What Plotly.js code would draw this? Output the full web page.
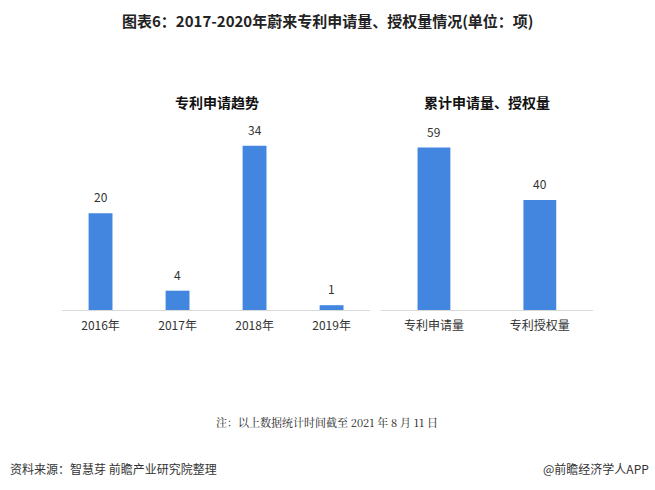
<!DOCTYPE html>
<html>
<head>
<meta charset="utf-8">
<script src="https://cdn.plot.ly/plotly-3.0.1.min.js"></script>
<style>
html,body{margin:0;padding:0;background:#fff;}
#chart{width:655px;height:490px;}
</style>
</head>
<body>
<div id="chart"></div>
<script>
// left panel: yearly applications
var year_labels = ['2016年', '2017年', '2018年', '2019年'];
var year_values = [20, 4, 34, 1];
// right panel: cumulative totals
var total_labels = ['专利申请量', '专利授权量'];
var total_values = [59, 40];

var bar_color = '#4286E0';
var cjk = '"Noto Sans CJK SC", "Noto Sans", sans-serif';

var trace_years = {
    x: year_labels,
    y: year_values,
    type: 'bar',
    marker: {color: bar_color},
    xaxis: 'x',
    yaxis: 'y',
    hoverinfo: 'none'
};
var trace_totals = {
    x: total_labels,
    y: total_values,
    type: 'bar',
    marker: {color: bar_color},
    xaxis: 'x2',
    yaxis: 'y2',
    hoverinfo: 'none'
};

// value labels above bars, a bit more room than plotly's outside text
function value_labels(cats, vals, xr, yr){
    var out = [];
    for (var i = 0; i < cats.length; i++){
        out.push({text: String(vals[i]), x: cats[i], y: vals[i], xref: xr, yref: yr,
            xanchor: 'center', yanchor: 'bottom', yshift: 6, showarrow: false,
            font: {family: cjk, size: 12, color: '#333'}});
    }
    return out;
}

var axis_x = {
    showline: true, linecolor: '#d9d9d9', linewidth: 1,
    ticks: '', showgrid: false, ticklabelstandoff: 5,
    tickfont: {family: cjk, size: 12, color: '#333'},
    fixedrange: true
};

var layout = {
    width: 655,
    height: 490,
    margin: {l: 0, r: 0, t: 0, b: 0},
    paper_bgcolor: '#fff',
    plot_bgcolor: 'rgba(0,0,0,0)',
    showlegend: false,
    bargap: 0.69,
    font: {family: cjk, color: '#333'},
    xaxis: Object.assign({domain: [0.0947, 0.565], anchor: 'y'}, axis_x),
    yaxis: {
        domain: [0.3673, 0.755],
        anchor: 'x',
        range: [0, 39.3],
        visible: false,
        fixedrange: true
    },
    xaxis2: Object.assign({domain: [0.5817, 0.905], anchor: 'y2'}, axis_x),
    yaxis2: {
        domain: [0.3673, 0.755],
        anchor: 'x2',
        range: [0, 69],
        visible: false,
        fixedrange: true
    },
    annotations: [
        {text: '<b>图表6：2017-2020年蔚来专利申请量、授权量情况(单位：项)</b>',
         xref: 'paper', yref: 'paper', x: 0.5, y: 1 - 20/490,
         xanchor: 'center', yanchor: 'middle', showarrow: false,
         font: {family: cjk, size: 15, color: '#222'}},
        {text: '<b>专利申请趋势</b>',
         xref: 'paper', yref: 'paper', x: 217/655, y: 1 - 102/490,
         xanchor: 'center', yanchor: 'middle', showarrow: false,
         font: {family: cjk, size: 14, color: '#111'}},
        {text: '<b>累计申请量、授权量</b>',
         xref: 'paper', yref: 'paper', x: 487/655, y: 1 - 102/490,
         xanchor: 'center', yanchor: 'middle', showarrow: false,
         font: {family: cjk, size: 14, color: '#111'}},
        {text: '注：以上数据统计时间截至 2021 年 8 月 11 日',
         xref: 'paper', yref: 'paper', x: 327/655, y: 1 - 422/490,
         xanchor: 'center', yanchor: 'middle', showarrow: false,
         font: {family: '"Noto Serif CJK SC", "DejaVu Serif", serif', size: 11, color: '#222'}},
        {text: '资料来源：智慧芽 前瞻产业研究院整理',
         xref: 'paper', yref: 'paper', x: 8/655, y: 1 - 468/490,
         xanchor: 'left', yanchor: 'middle', showarrow: false,
         font: {family: cjk, size: 12, color: '#333'}},
        {text: '@前瞻经济学人APP',
         xref: 'paper', yref: 'paper', x: 651/655, y: 1 - 468/490,
         xanchor: 'right', yanchor: 'middle', showarrow: false,
         font: {family: cjk, size: 12, color: '#333'}}
    ].concat(value_labels(year_labels, year_values, 'x', 'y'))
     .concat(value_labels(total_labels, total_values, 'x2', 'y2'))
};

Plotly.newPlot('chart', [trace_years, trace_totals], layout, {displayModeBar: false, staticPlot: true});
</script>
</body>
</html>
